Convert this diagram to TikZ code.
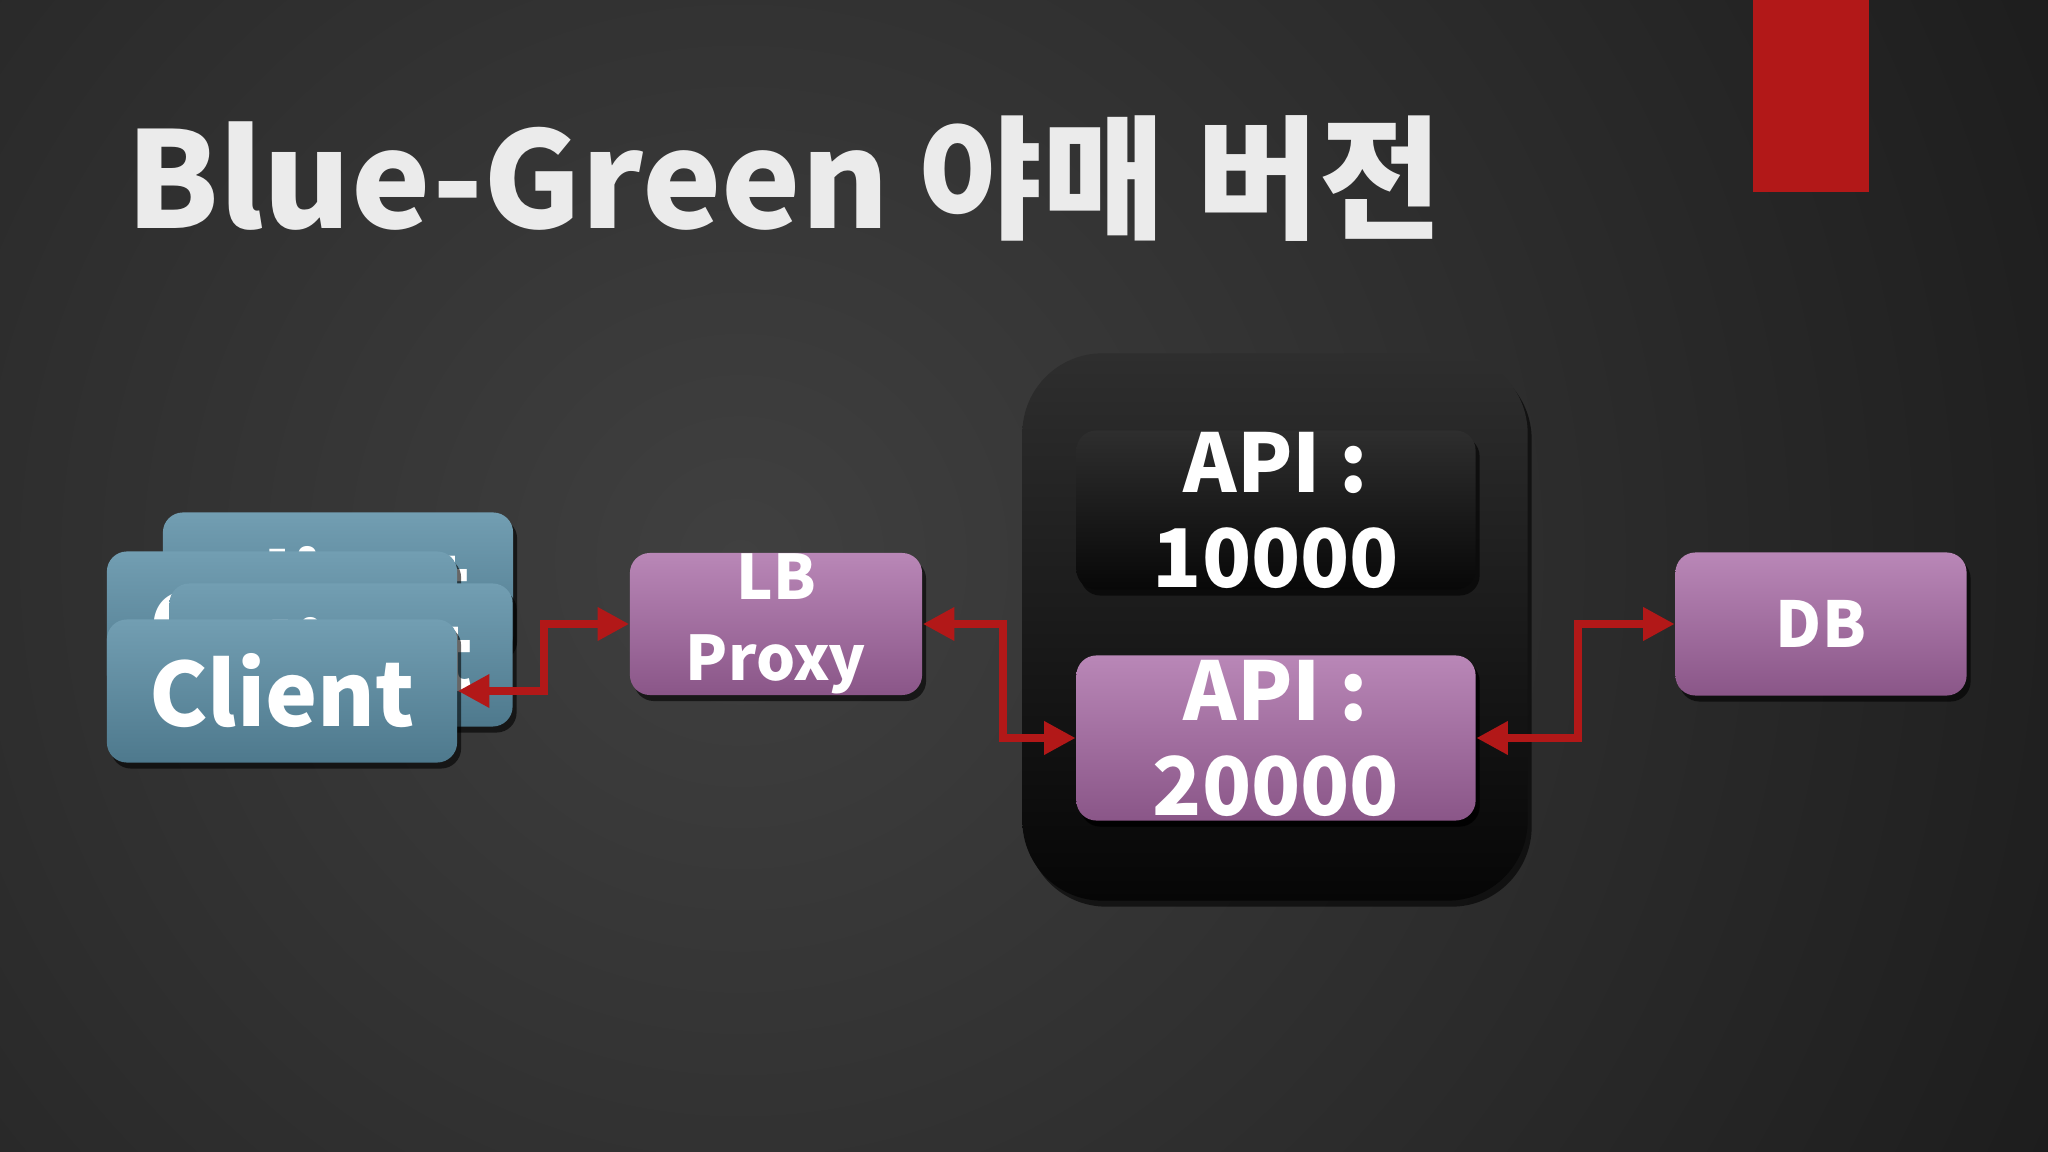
\documentclass[tikz,border=0pt]{standalone}
\usepackage{fontspec}
\setmainfont{Noto Sans CJK KR}
\usetikzlibrary{arrows.meta}
\usetikzlibrary{shadows}

\begin{document}
\begin{tikzpicture}
[x=0.01cm,y=-0.01cm,line cap=round,
% Styles
box/.style={rounded corners=0.2cm,inner sep=0pt,align=center,text=white,
  drop shadow={shadow xshift=0.04cm,shadow yshift=-0.06cm,opacity=0.6,fill=black}},
client box/.style={box,top color=clienttop,bottom color=clientbottom,
  minimum width=3.5cm,minimum height=1.43cm,font=\bfseries\fontsize{25}{30}\selectfont},
service box/.style={box,top color=servicetop,bottom color=servicebottom},
api box/.style={box,minimum width=3.99cm,font=\bfseries\fontsize{23}{27}\selectfont},
link/.style={line width=0.08cm,draw=linkcolor,
  {Triangle[length=9pt,width=9pt]}-{Triangle[length=9pt,width=9pt]}}]
% Colors
\definecolor{bgmid}{RGB}{64,64,64}
\definecolor{bgdark}{RGB}{13,13,13}
\definecolor{clienttop}{RGB}{114,158,178}
\definecolor{clientbottom}{RGB}{78,121,141}
\definecolor{servicetop}{RGB}{185,135,183}
\definecolor{servicebottom}{RGB}{138,86,136}
\definecolor{linkcolor}{RGB}{178,24,24}
\definecolor{clustertop}{RGB}{46,46,46}
\definecolor{clusterbottom}{RGB}{6,6,6}
% Background
\begin{scope}
\clip (0,0) rectangle (2048,1152);
\fill[inner color=bgmid,outer color=bgdark] (740,560) circle (2100);
\end{scope}
\useasboundingbox (0,0) rectangle (2048,1152);
\fill[linkcolor] (1753,0) rectangle (1869,192);
% Title
\node[anchor=base west,inner sep=0pt,text=white!92!black,
  font=\bfseries\fontsize{38}{42}\selectfont] (title) at (126,229) {Blue-Green 야매 버전};
% API cluster
\node[box,rounded corners=0.8cm,top color=clustertop,bottom color=clusterbottom,
  minimum width=5.05cm,minimum height=5.47cm] (cluster) at (1275,627) {};
\node[api box,top color=black!82,bottom color=black!97,minimum height=1.59cm]
  (api1) at (1276,510) {API :\\10000};
\node[api box,service box,minimum height=1.65cm]
  (api2) at (1276,738) {API :\\20000};
% Clients
\node[client box] (client4) at (338,584) {Client};
\node[client box] (client3) at (282,623) {Client};
\node[client box,minimum width=3.43cm] (client2) at (341,655) {Client};
\node[client box] (client) at (282,691) {Client};
% Proxy and DB
\node[service box,minimum width=2.92cm,minimum height=1.42cm,
  font=\bfseries\fontsize{17.5}{23}\selectfont] (lb) at (776,624) {LB\\Proxy};
\node[service box,minimum width=2.91cm,minimum height=1.43cm,
  font=\bfseries\fontsize{18}{22}\selectfont] (db) at (1821,624) {DB};
% Links
\draw[link] (lb.west) -- ++(-85,0) |- (client.east);
\draw[link] (lb.east) -- ++(80,0) |- (api2.west);
\draw[link] (api2.east) -- ++(102,0) |- (db.west);
\end{tikzpicture}
\end{document}
